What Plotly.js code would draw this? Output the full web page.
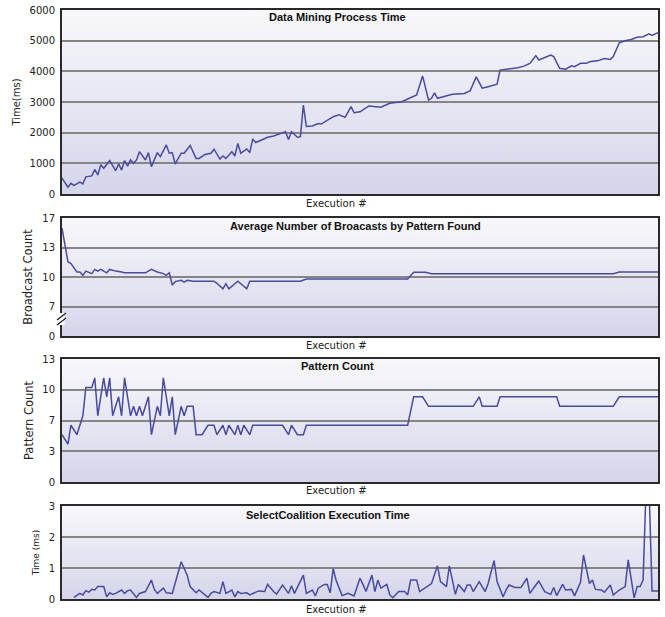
<!DOCTYPE html>
<html>
<head>
<meta charset="utf-8">
<script src="https://cdn.plot.ly/plotly-3.0.1.min.js"></script>
<style>html,body{margin:0;padding:0;background:#fff;}#chart{width:665px;height:617px;}</style>
</head>
<body>
<div id="chart"></div>
<script>
// ---- Data Mining Process Time (ms) ----
const dmExec = [0,2,3,4,6,7,8,10,11,12,13,14,16,18,19,20,21,22,23,24,25,26,28,29,30,32,33,35,36,37,38,40,41,43,45,46,48,50,51,53,54,55,57,58,59,60,62,63,64,65,67,69,71,73,75,76,77,79,80,81,82,84,86,87,89,91,93,95,97,98,100,103,107,110,114,117,119,121,123,124,125,126,129,131,135,137,139,141,143,146,147,150,153,155,157,159,160,164,165,167,169,171,172,174,176,177,180,182,184,185,187,189,191,193,195,197,198,200];
const dmTime = [520,220,350,280,390,330,560,590,800,620,950,840,1090,760,980,780,1090,910,1110,1000,1110,1380,1110,1350,890,1350,1220,1600,1330,1350,980,1330,1330,1580,1160,1160,1290,1330,1460,1140,1240,1160,1380,1240,1650,1330,1470,1350,1790,1680,1760,1850,1890,1960,2030,1780,2030,1850,1870,2900,2200,2220,2300,2280,2390,2520,2580,2500,2850,2650,2680,2870,2830,2960,3010,3150,3230,3850,3060,3120,3300,3120,3200,3250,3280,3370,3820,3450,3500,3580,4040,4070,4120,4170,4260,4510,4370,4530,4480,4100,4070,4180,4150,4260,4260,4310,4350,4420,4390,4480,4930,5000,5040,5110,5130,5220,5170,5260];
const dmTickVals = [0,1000,2000,3000,4000,5000,6000];

// ---- Average Number of Broadcasts by Pattern Found ----
const bcExec = [0,1,2,3,4,5,6,7,8,10,11,12,13,15,16,18,20,21,28,30,32,34,35,36,37,38,40,41,42,44,51,52,54,55,56,58,59,60,62,63,80,82,93,116,118,122,124,185,187,200];
const bcCount = [15.8,13.6,11.8,11.6,11.1,10.6,10.6,10.2,10.7,10.4,10.9,10.7,10.9,10.5,10.9,10.7,10.6,10.5,10.5,10.9,10.6,10.4,10.2,10.5,9.05,9.45,9.6,9.4,9.6,9.5,9.5,9.25,8.6,9.2,8.6,9.2,9.5,9.2,8.6,9.5,9.5,9.75,9.75,9.75,10.55,10.55,10.4,10.4,10.6,10.6];
const bcTickVals = [3,6.5,10,13.5,17];
const bcTickText = ['0','7','10','13','17'];

// ---- Pattern Count ----
const pcExec = [0,2,3,5,7,8,10,11,12,14,15,16,17,19,20,21,23,24,25,26,27,29,30,32,33,34,36,37,38,40,41,42,44,45,47,49,51,52,54,55,56,58,59,60,61,63,64,74,76,77,79,81,82,116,118,121,123,138,140,141,146,147,166,167,185,187,200];
const pcCount = [5,4,6,5,7,10,10,11,7,11,9,11,7,9,7,11,7,8,7,8,7,9,5,8,7,11,7,9,5,8,7,8,8,5,5,6,6,5,6,5,6,5,6,5,6,5,6,6,5,6,5,5,6,6,9,9,8,8,9,8,8,9,9,8,8,9,9];
const pcTickVals = [0,3.25,6.5,9.75,13];
const pcTickText = ['0','3','7','10','13'];

// ---- SelectCoalition Execution Time (ms) ----
const scExec = [4,6,7,8,9,10,11,12,14,15,16,17,18,20,21,22,23,25,26,28,30,31,32,34,35,37,40,42,43,45,46,49,50,51,53,54,55,57,58,59,60,62,63,65,66,68,69,71,72,74,76,77,78,81,82,84,85,86,88,89,90,91,92,94,96,98,100,101,102,104,105,106,107,109,110,111,113,115,116,117,119,120,122,124,126,127,129,130,132,133,135,136,137,138,140,142,143,145,146,148,149,150,152,154,156,157,159,160,162,164,165,166,168,169,171,172,174,175,177,178,179,181,182,184,185,187,189,190,192,193,194,195,196,197,198,200];
const scTime = [0.05,0.18,0.13,0.27,0.22,0.31,0.29,0.4,0.4,0.07,0.2,0.15,0.18,0.29,0.18,0.27,0.29,0.05,0.18,0.24,0.61,0.31,0.18,0.35,0.2,0.18,1.2,0.77,0.4,0.2,0.29,0.05,0.18,0.24,0.18,0.56,0.18,0.29,0.07,0.24,0.18,0.2,0.13,0.2,0.26,0.24,0.47,0.24,0.16,0.45,0.18,0.43,0.18,0.77,0.18,0.29,0.1,0.35,0.47,0.47,0.2,0.98,0.6,0.11,0.18,0.1,0.67,0.47,0.24,0.77,0.24,0.61,0.35,0.47,0.13,0.04,0.24,0.24,0.13,0.61,0.61,0.24,0.37,0.5,1.07,0.56,0.4,1.07,0.15,0.47,0.24,0.45,0.45,0.24,0.56,0.24,0.5,1.24,0.56,0.07,0.29,0.45,0.37,0.37,0.67,0.18,0.45,0.58,0.24,0.15,0.37,0.11,0.47,0.29,0.31,0.1,0.54,1.42,0.5,0.61,0.31,0.29,0.22,0.45,0.13,0.29,0.4,1.26,0.04,0.4,0.4,0.61,3.6,3.6,0.26,0.26];
const scTickVals = [0,1,2,3];

// ---- styling ----
const lineColor = '#4a4a9e';
const tickFont = {family:'DejaVu Sans', size:10, color:'#222'};
const gradSvg = '<svg xmlns="http://www.w3.org/2000/svg" width="10" height="100" viewBox="0 0 10 100" preserveAspectRatio="none"><defs><linearGradient id="g" x1="0" y1="0" x2="0" y2="1"><stop offset="0" stop-color="#f8f8fb"/><stop offset="1" stop-color="#d5d5eb"/></linearGradient></defs><rect width="10" height="100" fill="url(#g)"/></svg>';
const gradSrc = 'data:image/svg+xml;charset=utf-8,' + encodeURIComponent(gradSvg);

function mkTrace(x, y, ax, ay) {
  return {x:x, y:y, xaxis:ax, yaxis:ay, type:'scatter', mode:'lines',
          line:{color:lineColor, width:1.5}, hoverinfo:'x+y', showlegend:false};
}
const data = [
  mkTrace(dmExec, dmTime, 'x', 'y'),
  mkTrace(bcExec, bcCount, 'x2', 'y2'),
  mkTrace(pcExec, pcCount, 'x3', 'y3'),
  mkTrace(scExec, scTime, 'x4', 'y4')
];

function xa(anchor) {
  return {domain:[0,1], range:[0,200], anchor:anchor, showticklabels:false, showgrid:false,
          zeroline:false, showline:true, mirror:true, linecolor:'#2a2a2a', linewidth:2, ticks:''};
}
function ya(anchor, dom, range, tv, tt, title, tsize, standoff) {
  const a = {domain:dom, range:range, anchor:anchor, tickvals:tv, gridcolor:'#858585', gridwidth:2,
          showline:true, mirror:true, linecolor:'#2a2a2a', linewidth:2, zeroline:false, ticks:'',
          ticklabelstandoff:3, tickfont:tickFont,
          title:{text:title, font:{family:'DejaVu Sans', size:tsize, color:'#222'}, standoff:standoff}};
  if (tt) a.ticktext = tt;
  return a;
}
// pixel -> paper helpers (plot area: x 62..658, y 9..599)
const px = v => (v - 62) / 596;
const py = v => (599 - v) / 590;

function img(xr, yr) {
  return {source:gradSrc, xref:xr + ' domain', yref:yr + ' domain', x:0, y:1, sizex:1, sizey:1,
          xanchor:'left', yanchor:'top', sizing:'stretch', layer:'below'};
}
const titleFont = {family:'Liberation Sans', size:11, color:'#111'};
const labFont = {family:'DejaVu Sans', size:10, color:'#222'};
function ann(text, x, y, font) {
  return {text:text, xref:'paper', yref:'paper', x:px(x), y:py(y), xanchor:'center', yanchor:'middle',
          showarrow:false, font:font};
}

const layout = {
  width:665, height:617,
  margin:{l:62, r:7, t:9, b:18},
  paper_bgcolor:'#ffffff', plot_bgcolor:'rgba(0,0,0,0)',
  showlegend:false,
  xaxis: xa('y'), xaxis2: xa('y2'), xaxis3: xa('y3'), xaxis4: xa('y4'),
  yaxis:  ya('x',  [py(194), py(10)], [0,6000], dmTickVals, null, 'Time(ms)', 10, 7),
  yaxis2: ya('x2', [py(336), py(218)], [3,17], bcTickVals, bcTickText, 'Broadcast Count', 11.5, 7),
  yaxis3: ya('x3', [py(482), py(359)], [0,13], pcTickVals, pcTickText, 'Pattern Count', 11.5, 6),
  yaxis4: ya('x4', [py(599), py(506)], [0,3], scTickVals, null, 'Time (ms)', 9, 7),
  images:[img('x','y'), img('x2','y2'), img('x3','y3'), img('x4','y4')],
  annotations:[
    ann('<b>Data Mining Process Time</b>', 337, 17, titleFont),
    ann('<b>Average Number of Broacasts by Pattern Found</b>', 355, 226, titleFont),
    ann('<b>Pattern Count</b>', 337, 366, titleFont),
    ann('<b>SelectCoalition Execution Time</b>', 328, 515, titleFont),
    ann('Execution #', 336, 203, labFont),
    ann('Execution #', 336, 345, labFont),
    ann('Execution #', 336, 490, labFont),
    ann('Execution #', 336, 609, labFont)
  ],
  shapes:[
    {type:'rect', xref:'paper', yref:'paper', x0:px(59.5), x1:px(64.5), y0:py(325), y1:py(313),
     fillcolor:'#ffffff', line:{width:0}, layer:'above'},
    {type:'line', xref:'paper', yref:'paper', x0:px(57), y0:py(320), x1:px(66), y1:py(313),
     line:{color:'#222', width:1.3}, layer:'above'},
    {type:'line', xref:'paper', yref:'paper', x0:px(57), y0:py(325), x1:px(66), y1:py(318),
     line:{color:'#222', width:1.3}, layer:'above'}
  ]
};

Plotly.newPlot('chart', data, layout, {displayModeBar:false, staticPlot:true});
</script>
</body>
</html>
